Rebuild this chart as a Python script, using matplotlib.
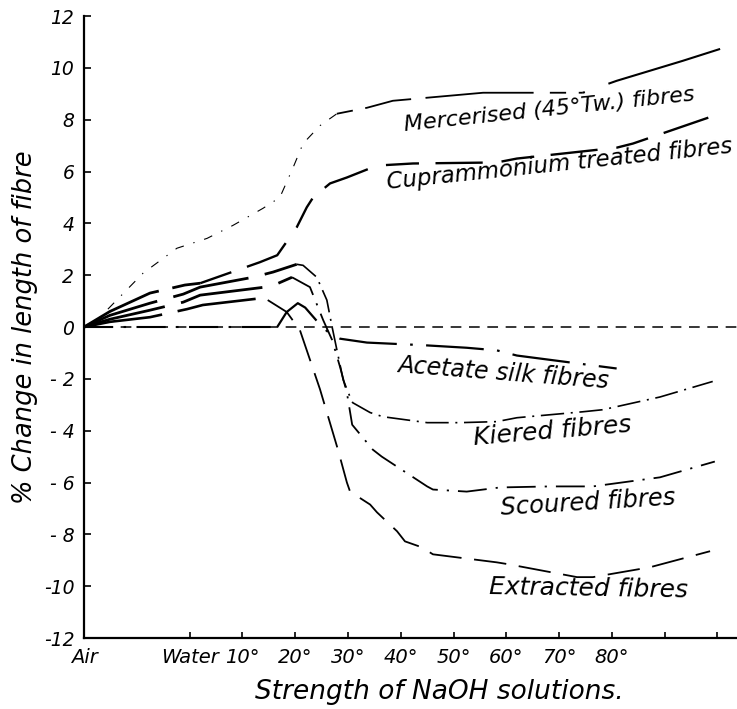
import matplotlib
matplotlib.use("Agg")
import matplotlib.pyplot as plt
import numpy as np

# ---------------- data (x = position on the strength scale: Air=0, Water=2, 10°=3 ... 80°=10)
tick_pos = [0, 2, 3, 4, 5, 6, 7, 8, 9, 10, 11, 12]
tick_labels = ["Air", "Water", "10°", "20°", "30°", "40°", "50°", "60°", "70°", "80°", "", ""]
ytick_vals = [12, 10, 8, 6, 4, 2, 0, -2, -4, -6, -8, -10, -12]
ytick_labels = ["12", "10", "8", "6", "4", "2", "0", "- 2", "- 4", "- 6", "- 8", "-10", "-12"]

merc_x = [0, 0.25, 1.12, 1.76, 2.33, 2.82, 3.39, 3.71, 3.96, 4.15, 4.47, 4.79, 5.36, 5.85, 7.56, 9.45, 10.09, 11.34, 12.05]
merc_y = [0, 0.27, 2.08, 3.04, 3.42, 3.92, 4.58, 5.0, 6.15, 7.08, 7.77, 8.23, 8.46, 8.73, 9.04, 9.04, 9.5, 10.27, 10.73]

cupr_x = [0, 0.49, 1.25, 1.91, 2.20, 3.33, 3.66, 4.03, 4.22, 4.34, 4.66, 4.98, 5.55, 6.23, 7.82, 8.20, 10.09, 10.40, 12.10]
cupr_y = [0, 0.6, 1.31, 1.62, 1.69, 2.5, 2.77, 3.85, 4.62, 5.0, 5.54, 5.77, 6.23, 6.31, 6.35, 6.5, 6.92, 7.08, 8.27]

kier_x = [0, 0.49, 1.25, 1.88, 2.20, 3.20, 3.58, 4.03, 4.15, 4.41, 4.60, 4.70, 4.79, 4.91, 5.04, 5.09, 5.42, 5.66,
          6.50, 7.12, 7.82, 8.20, 9.45, 9.83, 10.91, 11.91]
kier_y = [0, 0.45, 0.92, 1.27, 1.54, 1.92, 2.12, 2.42, 2.38, 1.92, 1.04, 0, -0.88, -2.04, -2.7, -2.92, -3.3, -3.46,
          -3.69, -3.69, -3.65, -3.5, -3.27, -3.19, -2.7, -2.1]

scou_x = [0, 0.49, 1.25, 1.88, 2.20, 3.43, 3.58, 3.94, 4.28, 4.53, 4.70, 4.85, 4.98, 5.08, 5.47, 5.64, 6.50, 6.61,
          7.25, 7.88, 8.83, 9.64, 10.91, 11.95]
scou_y = [0, 0.3, 0.65, 0.96, 1.23, 1.54, 1.6, 1.92, 1.54, 0.27, -0.5, -1.54, -2.54, -3.77, -4.73, -5.0, -6.15, -6.27,
          -6.35, -6.19, -6.15, -6.15, -5.8, -5.19]

extr_x = [0, 0.49, 1.25, 1.95, 2.25, 3.39, 3.48, 3.84, 4.09, 4.47, 4.81, 4.98, 5.04, 5.42, 5.55, 5.93, 6.08, 6.40,
          6.61, 7.82, 8.03, 9.34, 9.64, 10.72, 11.86]
extr_y = [0, 0.2, 0.38, 0.69, 0.85, 1.12, 1.04, 0.58, -0.12, -2.4, -4.73, -6.0, -6.35, -6.85, -7.15, -7.88, -8.27, -8.5,
          -8.77, -9.08, -9.15, -9.65, -9.65, -9.27, -8.65]

acet_x = [0, 3.66, 3.84, 4.05, 4.19, 4.51, 4.66, 4.85, 5.36, 6.42, 7.25, 7.82, 8.20, 10.09]
acet_y = [0, 0, 0.58, 0.92, 0.75, 0, -0.25, -0.45, -0.6, -0.7, -0.8, -0.9, -1.1, -1.6]

labels = ["Mercerised (45°Tw.) fibres", "Cuprammonium treated fibres", "Acetate silk fibres",
          "Kiered fibres", "Scoured fibres", "Extracted fibres"]

# ---------------- figure
plt.rcParams["font.family"] = ["DejaVu Sans"]
plt.rcParams["font.style"] = "italic"

fig = plt.figure(figsize=(7.37, 7.09), dpi=100)
ax = fig.add_axes([0.114, 0.1001, 0.886, 0.8773])
ax.set_xlim(0, 12.37)
ax.set_ylim(-12, 12)

K = "black"


def seg(xs, ys, lo, hi, **kw):
    xs = np.asarray(xs, float)
    ys = np.asarray(ys, float)
    m = (xs >= lo) & (xs <= hi)
    ax.plot(xs[m], ys[m], color=K, solid_capstyle="butt", dash_capstyle="butt",
            solid_joinstyle="round", dash_joinstyle="round", **kw)


# zero reference line
ax.axhline(0, color=K, lw=1.1, linestyle=(0, (7, 5)))

# Mercerised
seg(merc_x, merc_y, 0, 4.79, lw=0.8, linestyle=(0, (8, 9, 1.2, 9)))
seg(merc_x, merc_y, 4.79, 9.45, lw=1.3, linestyle=(0, (9, 7, 26, 8, 60, 9)))
seg(merc_x, merc_y, 9.45, 13, lw=1.5, linestyle=(0, (1, 12, 200, 1)))
# Cuprammonium
seg(cupr_x, cupr_y, 0, 2.2, lw=2.0, linestyle=(0, (30, 5)))
seg(cupr_x, cupr_y, 2.2, 13, lw=1.7, linestyle=(0, (14, 7, 20, 8)))
# Kiered
seg(kier_x, kier_y, 0, 4.03, lw=2.0, linestyle=(0, (28, 6)))
seg(kier_x, kier_y, 4.03, 13, lw=1.2, linestyle=(0, (14, 4, 1.2, 4)))
# Scoured
seg(scou_x, scou_y, 0, 3.94, lw=2.0, linestyle=(0, (30, 6)))
seg(scou_x, scou_y, 3.94, 13, lw=1.3, linestyle=(0, (16, 5, 1.2, 5)))
# Extracted
seg(extr_x, extr_y, 0, 3.48, lw=1.9, linestyle=(0, (30, 6)))
seg(extr_x, extr_y, 3.48, 13, lw=1.3, linestyle=(0, (18, 7)))
# Acetate
seg(acet_x, acet_y, 0, 3.66, lw=1.5, linestyle=(0, (14, 5, 1.2, 5)))
seg(acet_x, acet_y, 3.66, 13, lw=1.6, linestyle=(0, (26, 6, 1.2, 6)))

# curve labels
lab_x = [8.81, 9.0, 7.94, 8.88, 9.55, 9.56]
lab_y = [8.40, 6.28, -1.77, -4.04, -6.8, -10.08]
lab_rot = [6, 6.0, -4.4, 4.8, 3.4, -1]
lab_fs = [16, 16.5, 17, 18, 17.5, 18]
for t, x, y, r, fs in zip(labels, lab_x, lab_y, lab_rot, lab_fs):
    ax.text(x, y, t, rotation=r, rotation_mode="anchor", ha="center", va="center",
            fontsize=fs, color=K)

# axes styling
for s in ["top", "right"]:
    ax.spines[s].set_visible(False)
ax.spines["left"].set_linewidth(1.6)
ax.spines["bottom"].set_linewidth(1.6)

ax.set_yticks(ytick_vals)
ax.set_yticklabels(ytick_labels, fontsize=13.5)
ax.set_xticks(tick_pos)
ax.set_xticklabels(tick_labels, fontsize=14)
ax.tick_params(axis="y", direction="in", length=5, width=1.2, pad=7)
ax.tick_params(axis="x", direction="in", length=4, width=1.2, pad=7)

ax.set_ylabel("% Change in length of fibre", fontsize=18.5)
ax.yaxis.label.set_va("center")
ax.yaxis.set_label_coords(-0.09, 0.5)
ax.set_xlabel("Strength of NaOH solutions.", fontsize=19)
ax.xaxis.label.set_va("center")
ax.xaxis.set_label_coords(0.544, -0.087)

fig.savefig("out.png", dpi=100, facecolor="white")
